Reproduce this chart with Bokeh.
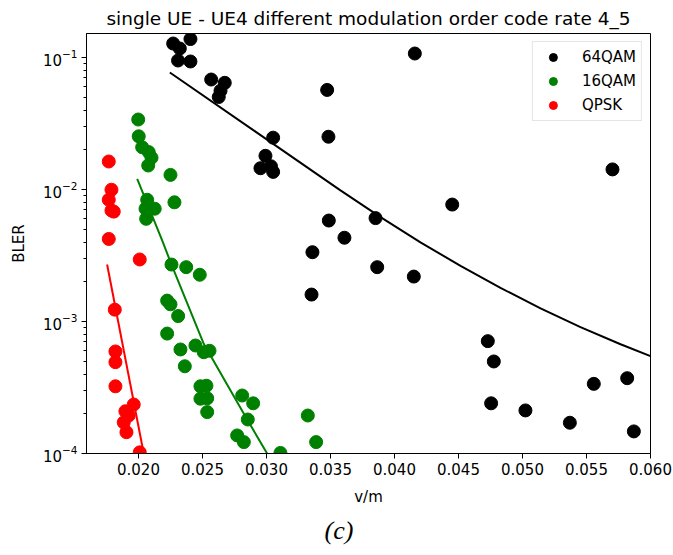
from bokeh.plotting import figure
from bokeh.models import FixedTicker, PrintfTickFormatter, Range1d, Title
from bokeh.embed import file_html
from bokeh.resources import INLINE

title_text = "single UE - UE4 different modulation order code rate 4_5"
x_label = "v/m"
y_label = "BLER"
caption = "(c)"

x_ticks = [0.020, 0.025, 0.030, 0.035, 0.040, 0.045, 0.050, 0.055, 0.060]

qam64_v = [0.02271, 0.02323, 0.02406, 0.02309, 0.02406, 0.02568, 0.02674, 0.02641, 0.02627,
           0.03474, 0.04159, 0.03052, 0.03484, 0.02992, 0.02953, 0.03035, 0.03052, 0.03487,
           0.03852, 0.04451, 0.03609, 0.03359, 0.03865, 0.04151, 0.03352, 0.05703, 0.04729,
           0.04776, 0.04755, 0.05023, 0.05370, 0.05557, 0.05818, 0.05870]
qam64_bler = [0.1276, 0.117, 0.138, 0.0949, 0.0933, 0.0681, 0.0643, 0.0560, 0.0502,
              0.0568, 0.1072, 0.0247, 0.0251, 0.0180, 0.0145, 0.0150, 0.0136, 0.00582,
              0.00607, 0.00769, 0.00431, 0.00335, 0.00258, 0.00219, 0.00160, 0.0142, 0.000710,
              0.000498, 0.000240, 0.000212, 0.000171, 0.000337, 0.000372, 0.000147]

qam16_v = [0.01998, 0.02002, 0.02029, 0.02080, 0.02102, 0.02076, 0.02250, 0.02068, 0.02055,
           0.02127, 0.02060, 0.02281, 0.02258, 0.02373, 0.02479, 0.02224, 0.02250, 0.02310,
           0.02224, 0.02328, 0.02445, 0.02510, 0.02555, 0.02362, 0.02484, 0.02531, 0.02484,
           0.02537, 0.02537, 0.02810, 0.02896, 0.02854, 0.02771, 0.02823, 0.03109, 0.03323,
           0.03388]
qam16_bler = [0.0339, 0.0253, 0.0209, 0.0192, 0.0174, 0.0152, 0.0129, 0.00836, 0.00715,
              0.00715, 0.0060, 0.0080, 0.00270, 0.00258, 0.00226, 0.00144, 0.00135, 0.00110,
              0.00081, 0.000614, 0.000658, 0.000585, 0.000600, 0.000458, 0.000323, 0.000326, 0.000260,
              0.000262, 0.000206, 0.000275, 0.000240, 0.000181, 0.000137, 0.000122, 0.000101, 0.000194,
              0.000122]

qpsk_v = [0.01768, 0.01789, 0.01768, 0.01789, 0.01807, 0.01768, 0.02010, 0.01815, 0.01820,
          0.01820, 0.01820, 0.01963, 0.01898, 0.01924, 0.01885, 0.01906, 0.02010]
qpsk_bler = [0.0163, 0.00996, 0.00836, 0.00693, 0.0068, 0.00422, 0.00295, 0.00123, 0.000593,
             0.000492, 0.000323, 0.000235, 0.000209, 0.000194, 0.000172, 0.000145, 0.000102]

# fitted trend curves
fit64_v = [0.02245, 0.02914, 0.03578, 0.03891, 0.04203, 0.04516, 0.04828,
           0.05141, 0.05453, 0.05766, 0.06000]
fit64_bler = [0.0770, 0.02746, 0.00986, 0.00618, 0.00398, 0.002637, 0.001797,
              0.001259, 0.000907, 0.000672, 0.000546]
fit16_v = [0.01990, 0.02185, 0.02258, 0.02510, 0.02849, 0.03005]
fit16_bler = [0.01205, 0.00411, 0.00270, 0.000678, 0.000181, 0.0001]
fitq_v = [0.01755, 0.02041]
fitq_bler = [0.00270, 0.0001]

FONT = "DejaVu Sans"

p = figure(width=673, height=555, y_axis_type="log",
           x_range=Range1d(0.01594, 0.060), y_range=Range1d(1e-4, 0.152),
           output_backend="svg", toolbar_location=None,
           min_border_left=86, min_border_right=23, min_border_top=33, min_border_bottom=102)
p.background_fill_color = "white"
p.border_fill_color = "white"
p.outline_line_color = "black"
p.outline_line_width = 1
p.xgrid.visible = False
p.ygrid.visible = False

p.title.text = title_text
p.title.align = "center"
p.title.text_font = FONT
p.title.text_font_size = "18.5px"
p.title.text_font_style = "normal"
p.title.text_color = "#000000"

p.xaxis.ticker = FixedTicker(ticks=x_ticks)
p.xaxis.formatter = PrintfTickFormatter(format="%.3f")
p.xaxis.minor_tick_line_color = None
p.xaxis.axis_label = x_label
p.yaxis.axis_label = y_label
for ax in (p.xaxis, p.yaxis):
    ax.axis_label_text_font = FONT
    ax.axis_label_text_font_size = "15px"
    ax.axis_label_text_font_style = "normal"
    ax.axis_label_text_color = "#000000"
    ax.major_label_text_font = FONT
    ax.major_label_text_font_size = "15px"
    ax.major_label_text_color = "#000000"
    ax.axis_line_color = "black"
    ax.major_tick_line_color = "black"
    ax.major_tick_out = 5
    ax.major_tick_in = 0
    ax.minor_tick_out = 3
    ax.minor_tick_in = 0
    ax.major_label_standoff = 4
p.xaxis.axis_label_standoff = 10
p.yaxis.axis_label_standoff = 12

p.scatter(qam64_v, qam64_bler, size=13, color="black", legend_label="64QAM")
p.scatter(qam16_v, qam16_bler, size=13, color="green", legend_label="16QAM")
p.scatter(qpsk_v, qpsk_bler, size=13, color="red", legend_label="QPSK")

p.line(fit64_v, fit64_bler, line_color="black", line_width=2)
p.line(fit16_v, fit16_bler, line_color="green", line_width=2)
p.line(fitq_v, fitq_bler, line_color="red", line_width=2)

lg = p.legend[0]
lg.location = "top_right"
lg.margin = 8
lg.padding = 5
lg.spacing = 4
lg.glyph_width = 30
lg.glyph_height = 20
lg.label_height = 20
lg.label_standoff = 14
lg.label_text_font = FONT
lg.label_text_font_size = "15px"
lg.label_text_color = "#000000"
lg.border_line_color = "#cccccc"
lg.border_line_width = 1
lg.background_fill_alpha = 0.8

cap = Title(text=caption, align="left", text_font="Liberation Serif",
            text_font_style="italic", text_font_size="26px", text_color="#000000",
            offset=238)
p.add_layout(cap, "below")

open("out.html", "w").write(file_html(p, INLINE))
